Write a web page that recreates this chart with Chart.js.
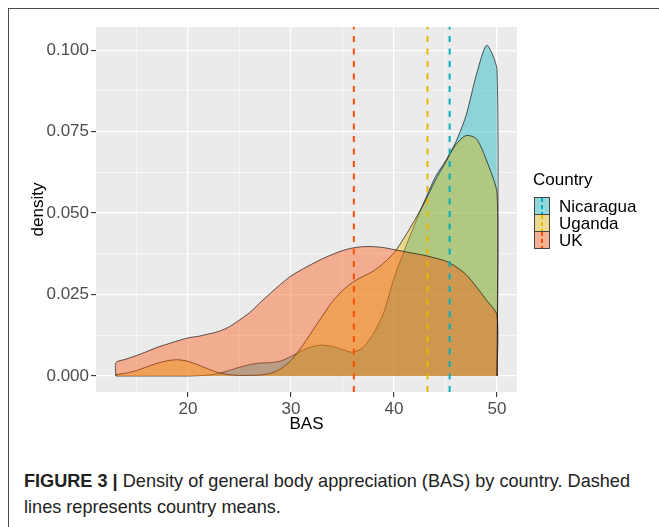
<!DOCTYPE html>
<html>
<head>
<meta charset="utf-8">
<script src="https://cdn.jsdelivr.net/npm/chart.js@4.4.1/dist/chart.umd.min.js"></script>
<style>
  html, body { margin:0; padding:0; background:#fff; }
  body { width:659px; height:527px; overflow:hidden; position:relative; font-family:"Liberation Sans", Arial, sans-serif; }
  #frame { position:absolute; left:8px; top:8px; width:700px; height:600px; border-top:1.5px solid #4a4a4a; border-left:1.5px solid #4a4a4a; }
  #chart { position:absolute; left:0; top:0; }
  .legend-title { position:absolute; left:533px; top:170px; font-size:17px; line-height:20px; color:#000; }
  .key { position:absolute; left:534px; width:14px; height:16px; border:0.8px solid #444; }
  .key .dash { position:absolute; left:6px; top:0; width:2px; height:100%; }
  .key-label { position:absolute; left:559px; font-size:17px; line-height:17px; color:#000; }
  #caption { position:absolute; left:24px; top:468px; font-size:19px; line-height:26px; color:#222; white-space:nowrap; transform-origin:0 0; font-family:"Liberation Sans Narrow", "Liberation Sans", Arial, sans-serif; }
  #caption b { color:#222; }
</style>
</head>
<body>
<div id="frame"></div>
<canvas id="chart" width="659" height="440"></canvas>
<div id="legend"></div>
<div id="caption"><span id="cap1"><b>FIGURE 3 |</b> Density of general body appreciation (BAS) by country. Dashed</span><br><span>lines represents country means.</span></div>

<script>
// BAS score grid and density estimates
const bas = [13,14,15,16,17,18,19,20,21,22,23,24,25,26,27,28,29,30,31,32,33,34,35,36,37,38,39,40,41,42,43,44,45,46,47,48,49,50];

const nicaragua = [0,0,0,0,0,0,0,0,0.0001,0.0003,0.0008,0.0017,0.0027,0.0035,0.0040,0.0041,0.0046,0.0060,0.0077,0.0090,0.0095,0.0091,0.0081,0.0073,0.0088,0.0130,0.0195,0.0300,0.0385,0.0465,0.0540,0.0610,0.0660,0.0718,0.0800,0.0925,0.1015,0.0939];
const uganda = [0.0004,0.0009,0.0017,0.0028,0.0039,0.0047,0.0050,0.0045,0.0034,0.0021,0.0010,0.0004,0.0002,0.0002,0.0003,0.0008,0.0022,0.0048,0.0088,0.0135,0.0182,0.0228,0.0262,0.0288,0.0306,0.0322,0.0347,0.0378,0.0425,0.0478,0.0535,0.0600,0.0655,0.0710,0.0738,0.0728,0.0660,0.0560];
const uk = [0.0041,0.0052,0.0063,0.0075,0.0088,0.0098,0.0108,0.0117,0.0122,0.0129,0.0137,0.0151,0.0172,0.0195,0.0225,0.0254,0.0282,0.0307,0.0326,0.0343,0.0359,0.0373,0.0385,0.0393,0.0397,0.0397,0.0394,0.0388,0.0382,0.0376,0.0370,0.0362,0.0353,0.0336,0.0311,0.0274,0.0232,0.0187];

const countries = ['Nicaragua','Uganda','UK'];
const countryMeans = [45.4, 43.25, 36.1];
const lineColors = ['#00AFBB','#E7B800','#FC4E07'];
const fillColors = ['rgba(0,175,187,0.4)','rgba(231,184,0,0.4)','rgba(252,78,7,0.4)'];

const xTicks = [15,20,25,30,35,40,45,50];
const yTicks = [0,0.0125,0.025,0.0375,0.05,0.0625,0.075,0.0875,0.1];
const xMin = 11.07, xMax = 51.94;
const yMin = -0.0049, yMax = 0.1071;

// closed outline like geom_density: down to zero at both ends
function densityPoints(vals){
  const pts = [{x: bas[0], y: 0}];
  bas.forEach((x, i) => pts.push({x: x, y: vals[i]}));
  pts.push({x: bas[bas.length-1], y: 0});
  return pts;
}

const isMajorX = v => v % 10 === 0;
const isMajorY = v => Math.abs(v/0.025 - Math.round(v/0.025)) < 1e-6;

const series = [nicaragua, uganda, uk];
const datasets = [];
series.forEach((vals, i) => {
  datasets.push({
    label: countries[i],
    data: densityPoints(vals),
    borderColor: 'rgba(0,0,0,0.8)',
    borderWidth: 0.8,
    backgroundColor: fillColors[i],
    fill: 'origin',
    pointRadius: 0,
    tension: 0.25,
    order: 3 - i + 3
  });
});
countryMeans.forEach((m, i) => {
  datasets.push({
    label: countries[i] + ' mean',
    data: [{x: m, y: yMin}, {x: m, y: yMax}],
    borderColor: lineColors[i],
    borderWidth: 2,
    borderDash: [6, 6.5],
    fill: false,
    pointRadius: 0,
    order: 1
  });
});

// grey ggplot panel
const panelBg = {
  id: 'panelBg',
  beforeDraw(chart){
    const a = chart.chartArea, ctx = chart.ctx;
    ctx.save();
    ctx.fillStyle = '#EBEBEB';
    ctx.fillRect(a.left, a.top, a.right - a.left, a.bottom - a.top);
    ctx.restore();
  }
};

Chart.defaults.font.family = '"Liberation Sans", Arial, sans-serif';

new Chart(document.getElementById('chart'), {
  type: 'line',
  data: { datasets: datasets },
  options: {
    responsive: false,
    animation: false,
    layout: { padding: { left: 0, top: 27, right: 142, bottom: 0 } },
    plugins: { legend: { display: false }, tooltip: { enabled: false } },
    scales: {
      x: {
        type: 'linear', min: xMin, max: xMax,
        afterBuildTicks: s => { s.ticks = xTicks.map(v => ({value: v})); },
        afterFit: s => { s.height = 48; },
        border: { display: false },
        grid: {
          color: '#FFFFFF',
          lineWidth: c => isMajorX(c.tick.value) ? 1.2 : 0.6,
          tickColor: c => isMajorX(c.tick.value) ? '#333333' : 'rgba(0,0,0,0)',
          tickWidth: 1.1, tickLength: 5
        },
        ticks: {
          autoSkip: false, maxRotation: 0, padding: 2,
          color: '#4D4D4D', font: { size: 17 },
          callback: v => isMajorX(v) ? String(v) : ''
        },
        title: { display: true, text: 'BAS', color: '#000', font: { size: 17 }, padding: { top: 0, bottom: 5 } }
      },
      y: {
        type: 'linear', min: yMin, max: yMax,
        afterBuildTicks: s => { s.ticks = yTicks.map(v => ({value: v})); },
        afterFit: s => { s.width = 96; },
        border: { display: false },
        grid: {
          color: '#FFFFFF',
          lineWidth: c => isMajorY(c.tick.value) ? 1.2 : 0.6,
          tickColor: c => isMajorY(c.tick.value) ? '#333333' : 'rgba(0,0,0,0)',
          tickWidth: 1.1, tickLength: 5
        },
        ticks: {
          autoSkip: false, padding: 2,
          color: '#4D4D4D', font: { size: 17 },
          callback: v => isMajorY(v) ? v.toFixed(3) : ''
        },
        title: { display: true, text: 'density', color: '#000', font: { size: 17 }, padding: { top: 28, bottom: 0 } }
      }
    }
  },
  plugins: [panelBg]
});

// legend, ggplot style keys with the mean line through them
const legend = document.getElementById('legend');
legend.innerHTML = '<div class="legend-title">Country</div>';
const keyTops = [197, 214, 231];
countries.forEach((name, i) => {
  const key = document.createElement('div');
  key.className = 'key';
  key.style.top = keyTops[i] + 'px';
  key.style.background = 'linear-gradient(' + fillColors[i] + ',' + fillColors[i] + '), #F2F2F2';
  key.innerHTML = '<div class="dash" style="background:repeating-linear-gradient(to bottom,' + lineColors[i] + ' 0 4px, transparent 4px 7px)"></div>';
  legend.appendChild(key);
  const lab = document.createElement('div');
  lab.className = 'key-label';
  lab.style.top = (keyTops[i] + 0.5) + 'px';
  lab.textContent = name;
  legend.appendChild(lab);
});

// squeeze caption to the width of the printed one
const cap = document.getElementById('caption');
const w = document.getElementById('cap1').getBoundingClientRect().width;
if (w > 0) cap.style.transform = 'scaleX(' + (606 / w) + ')';
</script>
</body>
</html>
